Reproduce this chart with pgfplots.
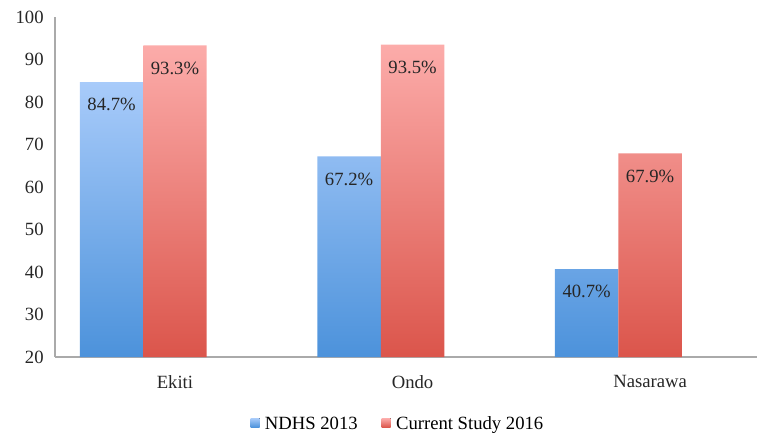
\documentclass[border=0pt]{standalone}
\usepackage{pgfplots}
\pgfplotsset{compat=1.18}
\usepackage{fontspec}
\setmainfont{Liberation Serif}
\definecolor{btop}{RGB}{168,203,250}
\definecolor{bbot}{RGB}{76,146,219}
\definecolor{rtop}{RGB}{252,172,170}
\definecolor{rbot}{RGB}{219,85,75}
\definecolor{axgray}{RGB}{170,170,170}
\begin{document}
\begin{tikzpicture}[x=1pt,y=1pt]
\begin{axis}[
  scale only axis,
  width=526.5pt, height=255pt,
  ymin=20, ymax=100, ytick={20,30,...,100},
  xmin=-0.505, xmax=2.45,
  xtick={0,1,2}, xticklabels={Ekiti,Ondo,Nasarawa},
  axis x line=bottom, axis y line=left,
  axis line style={draw=axgray, line width=0.8pt, -},
  major tick length=0pt,
  tick style={draw=none},
  /pgf/number format/assume math mode=true,
  tick label style={font=\fontsize{14}{16}\selectfont, text=black!85},
  yticklabel style={xshift=-5pt},
  xticklabel style={yshift=-10pt},
  ybar, bar width=0.267,
  nodes near coords={\pgfmathprintnumber[fixed,precision=1,fixed zerofill]{\pgfplotspointmeta}\%},
  every node near coord/.append style={font=\fontsize{14}{16}\selectfont, text=black!85, anchor=center, yshift=-17pt},
  legend style={draw=none, fill=none, at={(0.489,-0.197)}, anchor=center,
    legend columns=2, font=\fontsize{14}{16}\selectfont,
    /tikz/every odd column/.append style={column sep=2pt},
    /tikz/every even column/.append style={column sep=16pt}},
  legend cell align=left,
  clip=false,
]
\addplot[bar shift=-0.267, draw=none, top color=btop, bottom color=bbot,
  legend image code/.code={\fill[top color=btop,bottom color=bbot] (0pt,-2.5pt) rectangle (6.75pt,4.25pt);}]
  coordinates {(0,84.7) (1,67.2) (2,40.7)};
\addplot[bar shift=0, draw=none, top color=rtop, bottom color=rbot,
  legend image code/.code={\fill[top color=rtop,bottom color=rbot] (0pt,-2.5pt) rectangle (6.75pt,4.25pt);}]
  coordinates {(0,93.3) (1,93.5) (2,67.9)};
\legend{NDHS 2013, Current Study 2016}
\end{axis}
\pgfresetboundingbox
\useasboundingbox (current axis.south west) ++(-41.25pt,-60pt) rectangle ++(567.75pt,327.75pt);
\end{tikzpicture}
\end{document}
